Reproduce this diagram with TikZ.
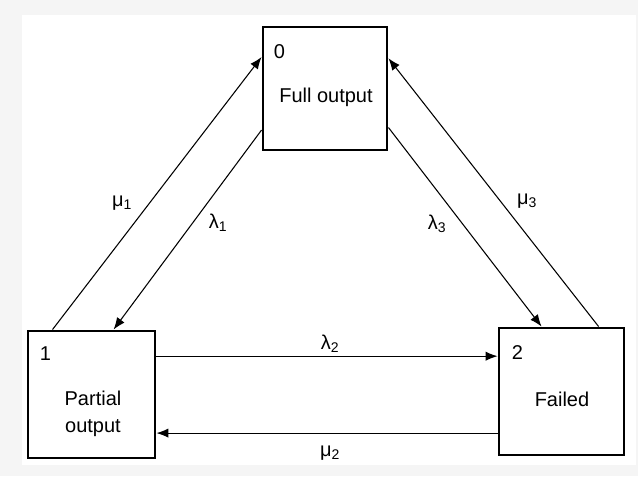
\documentclass[tikz,border=0pt]{standalone}
\usepackage{fontspec}
\setmainfont{Liberation Sans}
\usetikzlibrary{arrows.meta,calc}
\tikzset{
  statebox/.style={draw,line width=2.2pt,inner sep=0pt,minimum width=94pt,minimum height=95pt},
  trans/.style={line width=0.8pt,-{Latex[length=9pt,width=7pt]}},
  num/.style={inner sep=0pt},
}
\begin{document}
\begin{tikzpicture}[x=0.75pt,y=-0.75pt,font=\fontsize{15}{20}\selectfont]
  % Estados del sistema y tasas de transicion entre ellos
  \fill[black!4] (0,0) rectangle (638,476);
  \fill[white] (22,15) rectangle (636,465);
  \node[statebox,minimum width=93pt,minimum height=92.25pt] (b0) at (325,88.5) {};
  \node[statebox,minimum width=95.25pt,minimum height=95.25pt] (b1) at (91.5,394.5) {};
  \node[statebox,minimum width=93.75pt,minimum height=95.25pt] (b2) at (561.5,391.5) {};
  \node[num] (n0) at ([shift={(18,26)}]b0.north west) {0};
  \node[num] (n1) at ([shift={(19,24)}]b1.north west) {1};
  \node[num] (n2) at ([shift={(20,26)}]b2.north west) {2};
  \node (t0) at (326,97) {Full output};
  \node[align=center] (t1) at (93,414) {Partial\\output};
  \node (t2) at (562,399) {Failed};
  \draw[trans] ($(b1.north west)!0.2!(b1.north east)$) -- ($(b0.north west)!0.25!(b0.south west)$);
  \draw[trans] ($(b0.north west)!0.83!(b0.south west)$) -- ($(b1.north west)!0.67!(b1.north east)$);
  \draw[trans] ($(b0.north east)!0.81!(b0.south east)$) -- ($(b2.north west)!0.344!(b2.north east)$);
  \draw[trans] ($(b2.north west)!0.79!(b2.north east)$) -- ($(b0.north east)!0.26!(b0.south east)$);
  \coordinate (h1) at ($(b1.north east)!0.205!(b1.south east)$);
  \coordinate (h2) at ($(b2.north west)!0.82!(b2.south west)$);
  \draw[trans] (h1) -- (h1 -| b2.west);
  \draw[trans] (h2) -- (h2 -| b1.east);
  \node (m1) at (122,203) {μ\textsubscript{1}};
  \node (l1) at (218,223) {λ\textsubscript{1}};
  \node (l3) at (437,224) {λ\textsubscript{3}};
  \node (m3) at (527,201) {μ\textsubscript{3}};
  \node (l2) at (330,344) {λ\textsubscript{2}};
  \node (m2) at (330,453) {μ\textsubscript{2}};
\end{tikzpicture}
\end{document}
